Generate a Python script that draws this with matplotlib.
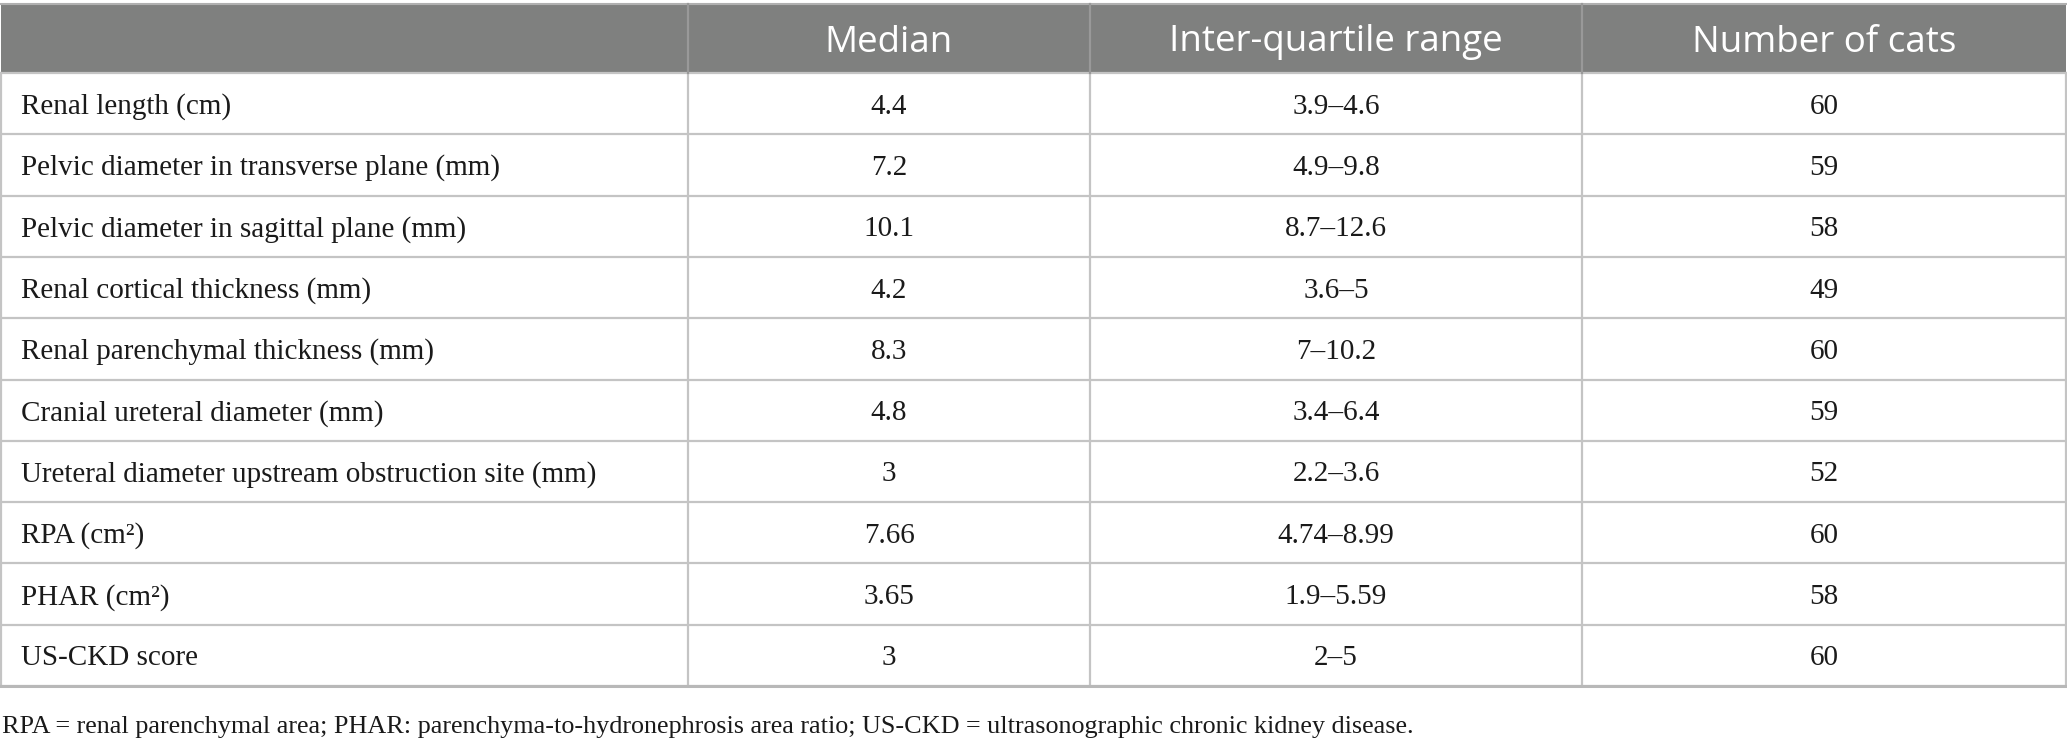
import matplotlib
matplotlib.use("Agg")
import matplotlib.pyplot as plt
from matplotlib.patches import Rectangle

# table content
columns = ["", "Median", "Inter-quartile range", "Number of cats"]
measures = [
    "Renal length (cm)",
    "Pelvic diameter in transverse plane (mm)",
    "Pelvic diameter in sagittal plane (mm)",
    "Renal cortical thickness (mm)",
    "Renal parenchymal thickness (mm)",
    "Cranial ureteral diameter (mm)",
    "Ureteral diameter upstream obstruction site (mm)",
    "RPA (cm²)",
    "PHAR (cm²)",
    "US-CKD score",
]
medians = ["4.4", "7.2", "10.1", "4.2", "8.3", "4.8", "3", "7.66", "3.65", "3"]
iqr = ["3.9–4.6", "4.9–9.8", "8.7–12.6", "3.6–5", "7–10.2",
       "3.4–6.4", "2.2–3.6", "4.74–8.99", "1.9–5.59", "2–5"]
n_cats = ["60", "59", "58", "49", "60", "59", "52", "60", "58", "60"]
footnote = ("RPA = renal parenchymal area; PHAR: parenchyma-to-hydronephrosis "
            "area ratio; US-CKD = ultrasonographic chronic kidney disease.")

# layout in pixels
W, H = 2067, 739
col_edges = [1, 688, 1090, 1582, 2066]
top, head_bot, row_h = 4, 73, 61.3
grid = "#c4c4c4"
head_col = "#7f807f"

fig = plt.figure(figsize=(W / 100, H / 100), dpi=100)
ax = fig.add_axes([0, 0, 1, 1])
ax.set_xlim(0, W)
ax.set_ylim(H, 0)
ax.axis("off")

n = len(measures)
bottom = head_bot + n * row_h

# header band
ax.add_patch(Rectangle((col_edges[0], top), col_edges[-1] - col_edges[0],
                       head_bot - top, facecolor=head_col, edgecolor="none"))
for j, name in enumerate(columns):
    if name:
        xc = (col_edges[j] + col_edges[j + 1]) / 2
        ax.text(xc, (top + head_bot) / 2 + 4, name, color="white",
                fontsize=26.5, family="Open Sans", ha="center", va="center")

# grid lines
ax.plot([col_edges[0], col_edges[-1]], [top, top], color="#b0b0b0", lw=1.5)
for i in range(n + 1):
    y = head_bot + i * row_h
    ax.plot([col_edges[0], col_edges[-1]], [y, y], color=grid, lw=1.6)
for j, x in enumerate(col_edges):
    ax.plot([x, x], [head_bot, bottom], color=grid, lw=1.6)
    if 0 < j < len(col_edges) - 1:
        ax.plot([x, x], [top, head_bot], color="#999999", lw=1.6)
ax.plot([col_edges[0], col_edges[-1]], [bottom, bottom], color="#b8b8b8", lw=2.2)

# body
for i in range(n):
    yc = head_bot + (i + 0.5) * row_h + 3
    ax.text(col_edges[0] + 20, yc, measures[i], fontsize=21,
            family="Liberation Serif", ha="left", va="center", color="#1a1a1a")
    for j, vals in enumerate([medians, iqr, n_cats], start=1):
        xc = (col_edges[j] + col_edges[j + 1]) / 2
        ax.text(xc, yc, vals[i], fontsize=21, family="Liberation Serif",
                ha="center", va="center", color="#1a1a1a")

ax.text(2, bottom + 41, footnote, fontsize=18.8, family="Liberation Serif",
        ha="left", va="center", color="#1a1a1a")

fig.savefig("out.png", dpi=100)
